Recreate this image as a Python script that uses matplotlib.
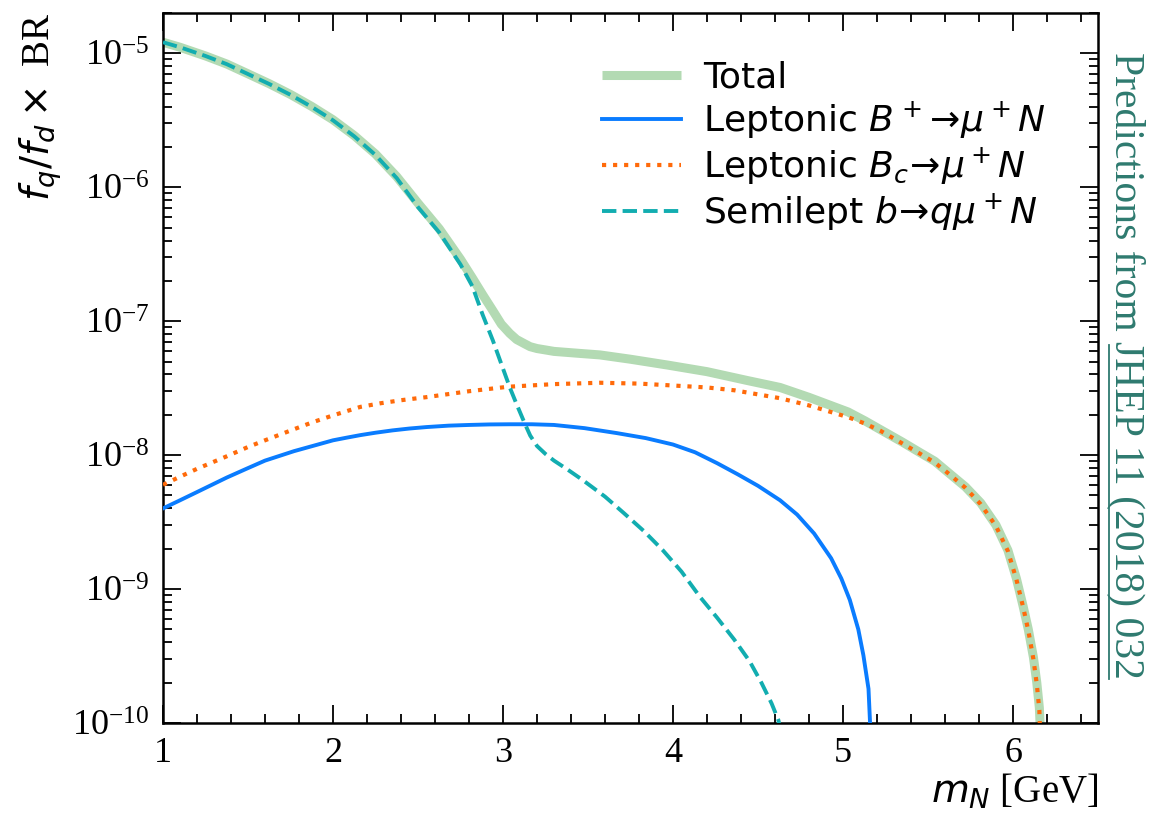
import matplotlib
matplotlib.use("Agg")
import matplotlib.pyplot as plt
from matplotlib.ticker import FixedLocator, MultipleLocator, FuncFormatter, NullFormatter
from matplotlib.lines import Line2D
import numpy as np

# ---------------- data ----------------
x_semi = [1.0, 1.1, 1.25, 1.375, 1.5, 1.625, 1.75, 1.875, 2.0, 2.125, 2.25, 2.375, 2.5, 2.625,
          2.75, 2.82, 2.88, 2.94, 2.99, 3.04, 3.08, 3.13, 3.16, 3.2, 3.25, 3.3, 3.38, 3.47,
          3.6, 3.71, 3.83, 3.94, 4.05, 4.16, 4.26, 4.36, 4.45, 4.52, 4.58, 4.62, 4.66]
y_semi = [1.21e-5, 1.11e-5, 9.55e-6, 8.3e-6, 7.0e-6, 5.9e-6, 4.9e-6, 3.98e-6, 3.16e-6, 2.4e-6,
          1.74e-6, 1.17e-6, 7.1e-7, 4.6e-7, 2.65e-7, 1.82e-7, 1.12e-7, 7.2e-8, 4.8e-8, 3.2e-8,
          2.4e-8, 1.7e-8, 1.4e-8, 1.17e-8, 1.02e-8, 9.1e-9, 7.8e-9, 6.5e-9, 4.9e-9, 3.7e-9,
          2.7e-9, 1.95e-9, 1.35e-9, 8.7e-10, 6.1e-10, 4.2e-10, 2.9e-10, 2.0e-10, 1.4e-10,
          1.05e-10, 6e-11]

x_total = [1.0, 1.1, 1.25, 1.375, 1.5, 1.625, 1.75, 1.875, 2.0, 2.125, 2.25, 2.375, 2.5, 2.625,
           2.75, 2.82, 2.88, 2.94, 2.99, 3.04, 3.08, 3.13, 3.16, 3.2, 3.25, 3.3, 3.45, 3.57,
           3.75, 3.97, 4.2, 4.44, 4.63, 4.8, 5.03, 5.13, 5.22, 5.35, 5.45, 5.54, 5.62, 5.72,
           5.81, 5.9, 5.97, 6.02, 6.06, 6.09, 6.12, 6.14, 6.155, 6.17]
y_total = [1.21e-5, 1.11e-5, 9.56e-6, 8.32e-6, 7.03e-6, 5.93e-6, 4.93e-6, 4.01e-6, 3.19e-6,
           2.43e-6, 1.77e-6, 1.2e-6, 7.6e-7, 4.9e-7, 2.9e-7, 2.1e-7, 1.58e-7, 1.2e-7, 9.5e-8,
           8.1e-8, 7.3e-8, 6.75e-8, 6.45e-8, 6.25e-8, 6.1e-8, 5.95e-8, 5.75e-8, 5.6e-8, 5.2e-8,
           4.7e-8, 4.2e-8, 3.6e-8, 3.2e-8, 2.7e-8, 2.1e-8, 1.8e-8, 1.55e-8, 1.25e-8, 1.05e-8,
           9.0e-9, 7.4e-9, 5.8e-9, 4.4e-9, 3.0e-9, 1.95e-9, 1.2e-9, 7.4e-10, 5.0e-10, 3.1e-10,
           2.0e-10, 1.3e-10, 5e-11]

x_bplus = [1.0, 1.1, 1.2, 1.375, 1.49, 1.6, 1.77, 1.88, 2.0, 2.08, 2.16, 2.25, 2.35, 2.45, 2.55,
           2.68, 2.8, 2.92, 3.04, 3.17, 3.3, 3.48, 3.67, 3.84, 4.0, 4.13, 4.26, 4.38, 4.5, 4.63,
           4.73, 4.83, 4.93, 4.99, 5.04, 5.09, 5.12, 5.15, 5.17]
y_bplus = [4.0e-9, 4.6e-9, 5.3e-9, 6.8e-9, 7.9e-9, 9.1e-9, 1.07e-8, 1.17e-8, 1.29e-8, 1.35e-8,
           1.41e-8, 1.47e-8, 1.53e-8, 1.58e-8, 1.62e-8, 1.66e-8, 1.68e-8, 1.695e-8, 1.70e-8,
           1.7e-8, 1.68e-8, 1.59e-8, 1.46e-8, 1.34e-8, 1.2e-8, 1.05e-8, 8.7e-9, 7.2e-9, 5.9e-9,
           4.6e-9, 3.6e-9, 2.6e-9, 1.7e-9, 1.2e-9, 8.3e-10, 5.0e-10, 3.2e-10, 1.8e-10, 5e-11]

x_bc = [1.0, 1.1, 1.2, 1.375, 1.5, 1.6, 1.77, 1.88, 2.0, 2.16, 2.28, 2.4, 2.55, 2.8, 3.03, 3.3,
        3.57, 3.8, 4.0, 4.2, 4.36, 4.63, 4.8, 5.03, 5.13, 5.22, 5.35, 5.45, 5.54, 5.62, 5.72,
        5.81, 5.9, 5.97, 6.02, 6.06, 6.09, 6.12, 6.14, 6.155, 6.165]
y_bc = [6.0e-9, 6.9e-9, 7.9e-9, 9.8e-9, 1.15e-8, 1.29e-8, 1.56e-8, 1.76e-8, 1.98e-8, 2.29e-8,
        2.44e-8, 2.57e-8, 2.71e-8, 3.0e-8, 3.24e-8, 3.39e-8, 3.47e-8, 3.42e-8, 3.31e-8, 3.2e-8,
        3.05e-8, 2.66e-8, 2.35e-8, 1.92e-8, 1.72e-8, 1.52e-8, 1.22e-8, 1.03e-8, 8.8e-9, 7.3e-9,
        5.7e-9, 4.3e-9, 2.95e-9, 1.92e-9, 1.18e-9, 7.3e-10, 4.9e-10, 3.0e-10, 1.95e-10, 1.25e-10,
        5e-11]

labels = ["Total", r"Leptonic $B^+\!\to\!\mu^+N$", r"Leptonic $B_c\!\to\!\mu^+N$",
          r"Semilept $b\!\to\! q\mu^+N$"]
x_ticks = [1, 2, 3, 4, 5, 6]
y_exponents = [-10, -9, -8, -7, -6, -5]

# ---------------- style ----------------
plt.rcParams['font.family'] = ['Liberation Serif', 'DejaVu Serif']
plt.rcParams['mathtext.fontset'] = 'dejavusans'

W, H = 1154, 815
fig = plt.figure(figsize=(W / 100, H / 100), dpi=100)
ax = fig.add_axes([163 / W, 1 - 723 / H, (1098 - 163) / W, (723 - 13) / H])

ax.plot(x_total, y_total, color='#b3dab3', lw=6.5, solid_capstyle='butt',
        solid_joinstyle='round', label=labels[0], zorder=2)
ax.plot(x_bplus, y_bplus, color='#0a7cff', lw=2.8, solid_joinstyle='round', label=labels[1], zorder=3)
ax.plot(x_bc, y_bc, color='#ff6a0a', lw=3.0, ls=':', label=labels[2], zorder=4)
ax.plot(x_semi, y_semi, color='#12adb0', lw=2.8, ls='--', label=labels[3], zorder=4)

ax.set_yscale('log')
ax.set_xlim(1, 6.5)
ax.set_ylim(1e-10, 2e-5)

ax.xaxis.set_major_locator(FixedLocator(x_ticks))
ax.xaxis.set_minor_locator(MultipleLocator(0.2))
major_y = [10.0 ** e for e in y_exponents]
minor_y = [m * 10.0 ** e for e in y_exponents for m in range(2, 10) if m * 10.0 ** e <= 2e-5]
ax.yaxis.set_major_locator(FixedLocator(major_y))
ax.yaxis.set_minor_locator(FixedLocator(minor_y))
ax.yaxis.set_minor_formatter(NullFormatter())
ax.yaxis.set_major_formatter(FuncFormatter(
    lambda v, p: r'$\mathregular{10^{%d}}$' % int(round(np.log10(v)))))

ax.tick_params(which='both', direction='in', top=True, right=True, width=1.3, labelsize=26)
ax.tick_params(which='major', length=13, pad=10)
ax.tick_params(which='minor', length=6.5)
for s in ax.spines.values():
    s.set_linewidth(1.8)

ax.set_xlabel(r'$m_N$ [GeV]', fontsize=28, loc='right', labelpad=2)
ax.set_ylabel(r'$f_q/f_d \times$ BR', fontsize=28, loc='top', labelpad=6)

leg = ax.legend(loc='upper left', bbox_to_anchor=(602 / W, 1 - 61 / H),
                bbox_transform=fig.transFigure, frameon=False, borderpad=0,
                borderaxespad=0, handlelength=2.2, handletextpad=0.6, labelspacing=0.12,
                prop={'family': 'DejaVu Sans', 'size': 26})

# right-side note (rotated), with underlined reference
col = '#2e7a6f'
fs_note = 30
t1 = fig.text(1125 / W, 1 - 52 / H, 'Predictions from ', rotation=270, color=col,
              fontsize=fs_note, ha='center', va='top')
fig.canvas.draw()
r = fig.canvas.get_renderer()
bb1 = t1.get_window_extent(r)
t2 = fig.text(1125 / W, bb1.y0 / H, 'JHEP 11 (2018) 032', rotation=270, color=col,
              fontsize=fs_note, ha='center', va='top')
fig.canvas.draw()
bb2 = t2.get_window_extent(r)
ux = (bb2.x0 + 3) / W
fig.add_artist(Line2D([ux, ux], [bb2.y0 / H, (bb2.y1 - 4) / H], color=col, lw=1.3,
                      transform=fig.transFigure))

fig.savefig('out.png', dpi=100)
